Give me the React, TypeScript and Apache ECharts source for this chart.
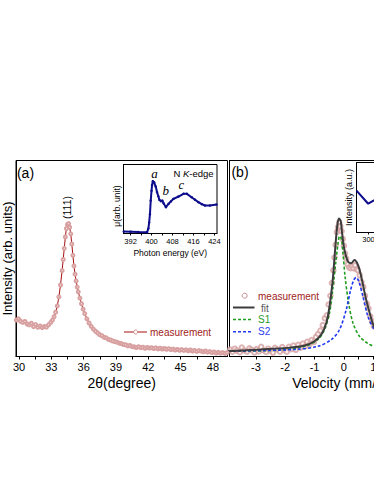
import React, { useEffect, useRef } from "react";
import * as echarts from "echarts";

const FONT = "Liberation Sans, Arial, Helvetica, sans-serif";
const SERIF = "Liberation Serif, Times New Roman, serif";

// Panel (a): XRD pattern
const xrdAngle = [29.75, 29.95, 30.15, 30.35, 30.55, 30.75, 30.95, 31.15, 31.35, 31.55, 31.75, 31.95, 32.15, 32.35, 32.55, 32.75, 32.95, 33.1, 33.25, 33.4, 33.55, 33.7, 33.85, 34.0, 34.1, 34.2, 34.3, 34.4, 34.5, 34.6, 34.7, 34.8, 34.9, 35.0, 35.1, 35.2, 35.3, 35.4, 35.5, 35.65, 35.8, 35.95, 36.1, 36.3, 36.5, 36.7, 36.9, 37.1, 37.3, 37.5, 37.7, 37.9, 38.1, 38.3, 38.5, 38.7, 38.9, 39.1, 39.3, 39.5, 39.7, 39.9, 40.1, 40.3, 40.5, 40.7, 40.9, 41.1, 41.3, 41.5, 41.7, 41.9, 42.1, 42.3, 42.5, 42.7, 42.9, 43.1, 43.3, 43.5, 43.7, 43.9, 44.1, 44.3, 44.5, 44.7, 44.9, 45.1, 45.3, 45.5, 45.7, 45.9, 46.1, 46.3, 46.5, 46.7, 46.9, 47.1, 47.3, 47.5, 47.7, 47.9, 48.1, 48.3, 48.5, 48.7, 48.9, 49.1, 49.3];
const xrdIntensity = [18.6, 19.2, 18.0, 17.4, 17.9, 16.6, 16.1, 17.0, 15.2, 16.3, 14.9, 15.6, 14.7, 15.3, 15.0, 16.2, 17.4, 18.6, 20.3, 22.6, 25.8, 30.4, 36.5, 43.8, 49.5, 55.2, 61.0, 65.3, 67.4, 67.8, 66.0, 62.6, 57.4, 51.6, 46.2, 42.0, 38.5, 35.4, 33.0, 29.8, 26.9, 24.2, 21.9, 19.2, 17.1, 15.4, 14.0, 12.9, 12.0, 11.1, 10.6, 9.8, 9.5, 8.7, 8.4, 7.9, 7.6, 7.3, 6.8, 6.6, 6.1, 6.0, 5.4, 5.6, 5.0, 4.9, 4.6, 5.0, 4.5, 4.7, 4.2, 4.6, 4.3, 4.5, 4.1, 4.4, 3.9, 4.2, 3.8, 4.1, 3.7, 4.0, 3.5, 3.8, 3.3, 3.6, 3.2, 3.5, 3.1, 3.4, 2.9, 3.3, 2.8, 3.1, 2.6, 3.0, 2.7, 2.4, 2.8, 2.2, 2.5, 2.0, 2.3, 1.8, 2.1, 1.7, 2.0, 1.6, 1.9];
const xrdLabels = [30, 33, 36, 39, 42, 45, 48];
const xrdTicks = [30, 31.5, 33, 34.5, 36, 37.5, 39, 40.5, 42, 43.5, 45, 46.5, 48];

// Inset (a): N K-edge absorption
const nexafsEnergy = [389.4, 392, 395, 398.3, 398.8, 399.1, 399.4, 399.7, 400.0, 400.2, 400.5, 401.0, 401.6, 402.1, 402.6, 403.0, 403.6, 404.1, 404.6, 405.5, 406.5, 407.4, 408.4, 410.3, 412.2, 413.5, 415.3, 416.6, 417.9, 419.2, 420.4, 422.3, 424.8];
const nexafsMu = [2.9, 2.6, 2.2, 1.9, 7.2, 16, 28, 47.8, 62, 70, 75.8, 74, 68, 60, 54, 48.8, 46.8, 47.8, 43.9, 38.1, 43, 46.5, 50.3, 53.6, 57.5, 57.5, 52.6, 49, 45.4, 42.5, 40.6, 40.6, 42];
const nexafsLabels = [392, 400, 408, 416, 424];
const nexafsTicks = [392, 396, 400, 404, 408, 412, 416, 420, 424];

// Panel (b): Mössbauer spectrum
const mossVelocity = [-3.88, -3.8, -3.72, -3.65, -3.55, -3.48, -3.4, -3.3, -3.22, -3.15, -3.05, -2.98, -2.9, -2.82, -2.74, -2.65, -2.58, -2.5, -2.42, -2.35, -2.26, -2.18, -2.1, -2.02, -1.95, -1.87, -1.8, -1.72, -1.64, -1.56, -1.48, -1.4, -1.32, -1.25, -1.17, -1.1, -1.02, -0.95, -0.88, -0.8, -0.72, -0.65, -0.58, -0.52, -0.46, -0.41, -0.36, -0.32, -0.28, -0.24, -0.2, -0.16, -0.12, -0.08, -0.04, 0.0, 0.04, 0.08, 0.13, 0.18, 0.23, 0.28, 0.33, 0.38, 0.43, 0.48, 0.54, 0.6, 0.66, 0.72, 0.78, 0.84, 0.9, 0.96, 1.02, 1.1, 1.18, 1.26, 1.34, 1.42];
const mossCounts = [3.5, 2.4, 4.0, 3.0, 2.2, 4.6, 3.1, 2.5, 4.2, 3.4, 2.1, 3.8, 2.6, 4.9, 3.2, 2.3, 4.0, 3.0, 2.0, 4.4, 3.6, 2.5, 4.8, 3.3, 2.4, 5.0, 3.7, 5.6, 3.4, 6.0, 4.5, 6.6, 5.2, 7.5, 6.2, 8.4, 7.4, 10.0, 11.5, 13.2, 16.0, 19.5, 21.0, 26.5, 31.0, 37.5, 44.0, 50.5, 57.0, 63.5, 66.0, 68.5, 66.5, 64.0, 60.0, 56.5, 52.5, 50.0, 47.0, 45.5, 45.0, 46.0, 45.0, 46.5, 44.5, 44.0, 41.5, 38.0, 35.5, 31.0, 27.0, 24.5, 20.5, 18.0, 15.5, 14.8, 12.6, 11.5, 10.2, 9.6];
const fitVelocity = [-3.95, -2.82, -1.91, -1.34, -1.0, -0.77, -0.6, -0.49, -0.38, -0.3, -0.23, -0.17, -0.11, -0.06, 0.02, 0.14, 0.25, 0.36, 0.48, 0.59, 0.76, 0.93, 1.02, 1.2, 1.4];
const fitCounts = [2.7, 3.6, 4.4, 5.6, 7.8, 11.2, 17.1, 25.5, 39.1, 54.3, 66.1, 70.4, 69.2, 62.8, 54.3, 48.4, 47.6, 49.2, 46.7, 40.8, 28.9, 19.5, 15.5, 12.2, 9.8];
const s1Velocity = [-3.95, -2.25, -1.34, -0.89, -0.66, -0.49, -0.38, -0.28, -0.2, -0.15, -0.09, -0.03, 0.04, 0.16, 0.31, 0.53, 0.82, 1.04, 1.4];
const s1Counts = [2.7, 3.2, 5.2, 8.6, 13.7, 22.2, 34, 47.6, 57.7, 61.4, 60.3, 52.6, 40.8, 27.3, 17.1, 10.3, 6.6, 5.2, 4.3];
const s2Velocity = [-3.95, -1.68, -0.89, -0.43, -0.15, 0.08, 0.23, 0.34, 0.42, 0.51, 0.65, 0.82, 1.04, 1.4];
const s2Counts = [2.7, 3.6, 5.2, 8.6, 13.7, 23.9, 34, 39.1, 40.3, 38.2, 30.6, 20.5, 13.7, 8.6];
const mossLabels = [-3, -2, -1, 0, 1, 2, 3];
const mossTicks = [-3.5, -3, -2.5, -2, -1.5, -1, -0.5, 0, 0.5, 1, 1.5, 2, 2.5, 3, 3.5];

// Inset (b): partially visible curve
const insetBX = [296, 299.9, 301.8, 304];
const insetBY = [59.9, 41.1, 45.8, 48];
const insetBLabels = [300];
const insetBTicks = [300, 305, 310, 315];

const zip = (a: number[], b: number[]) => a.map((v, i) => [v, b[i]]);

const axisLine = { show: true, onZero: false, lineStyle: { color: "#000", width: 1 } };

function buildOption() {
  return {
    animation: false,
    backgroundColor: "#fff",
    textStyle: { fontFamily: FONT },
    grid: [
      { left: 15.5, top: 160.5, width: 212, height: 196, show: true, borderColor: "#000", borderWidth: 1, backgroundColor: "transparent" },
      { left: 123.5, top: 164.5, width: 93.5, height: 69, show: true, borderColor: "#000", borderWidth: 1, backgroundColor: "#fff" },
      { left: 229.5, top: 160.5, width: 221, height: 196, show: true, borderColor: "#000", borderWidth: 1, backgroundColor: "transparent" },
      { left: 356.5, top: 162.5, width: 60, height: 70, show: true, borderColor: "#000", borderWidth: 1, backgroundColor: "#fff" },
    ],
    xAxis: [
      {
        type: "value", gridIndex: 0, min: 29.72, max: 49.35,
        axisLine,
        axisTick: { show: true, customValues: xrdTicks, length: 3, inside: false, lineStyle: { color: "#000" } },
        axisLabel: { customValues: xrdLabels, fontSize: 11, color: "#000", margin: 5, fontFamily: FONT },
        splitLine: { show: false },
        name: "2θ(degree)", nameLocation: "middle", nameGap: 19,
        nameTextStyle: { fontSize: 14, color: "#000", fontFamily: FONT },
      },
      {
        type: "value", gridIndex: 1, min: 389.3, max: 425,
        axisLine,
        axisTick: { show: true, customValues: nexafsTicks, length: 2, lineStyle: { color: "#000" } },
        axisLabel: { customValues: nexafsLabels, fontSize: 7.5, color: "#000", margin: 4, fontFamily: FONT },
        splitLine: { show: false },
        name: "Photon energy (eV)", nameLocation: "middle", nameGap: 15,
        nameTextStyle: { fontSize: 8.5, color: "#000", fontFamily: FONT },
      },
      {
        type: "value", gridIndex: 2, min: -3.9, max: 3.635,
        axisLine,
        axisTick: { show: true, customValues: mossTicks, length: 3, lineStyle: { color: "#000" } },
        axisLabel: { customValues: mossLabels, fontSize: 11, color: "#000", margin: 5, fontFamily: FONT },
        splitLine: { show: false },
        name: "Velocity (mm/s)", nameLocation: "middle", nameGap: 19,
        nameTextStyle: { fontSize: 14, color: "#000", fontFamily: FONT },
      },
      {
        type: "value", gridIndex: 3, min: 296, max: 316,
        axisLine,
        axisTick: { show: true, customValues: insetBTicks, length: 2, lineStyle: { color: "#000" } },
        axisLabel: { customValues: insetBLabels, fontSize: 7.5, color: "#000", margin: 3, fontFamily: FONT },
        splitLine: { show: false },
      },
    ],
    yAxis: [
      {
        type: "value", gridIndex: 0, min: 0, max: 100,
        axisLine, axisTick: { show: false }, axisLabel: { show: false }, splitLine: { show: false },
        name: "Intensity (arb. units)", nameLocation: "middle", nameGap: 2,
        nameTextStyle: { fontSize: 13, color: "#000", fontFamily: FONT },
      },
      {
        type: "value", gridIndex: 1, min: 0, max: 100,
        axisLine, axisTick: { show: false }, axisLabel: { show: false }, splitLine: { show: false },
      },
      {
        type: "value", gridIndex: 2, min: 0, max: 100,
        axisLine, axisTick: { show: false }, axisLabel: { show: false }, splitLine: { show: false },
      },
      {
        type: "value", gridIndex: 3, min: 0, max: 100,
        axisLine, axisTick: { show: false }, axisLabel: { show: false }, splitLine: { show: false },
        name: "Intensity (a.u.)", nameLocation: "middle", nameGap: 3,
        nameTextStyle: { fontSize: 9, color: "#000", fontFamily: FONT },
      },
    ],
    series: [
      {
        name: "measurement", type: "line", xAxisIndex: 0, yAxisIndex: 0,
        data: zip(xrdAngle, xrdIntensity),
        symbol: "emptyCircle", symbolSize: 3, showSymbol: true,
        lineStyle: { color: "#a50f0f", width: 1 },
        itemStyle: { color: "#d8a0a0", borderColor: "#d39a9a", borderWidth: 0.8 },
      },
      {
        name: "N K-edge", type: "line", xAxisIndex: 1, yAxisIndex: 1,
        data: zip(nexafsEnergy, nexafsMu),
        symbol: "circle", symbolSize: 2.5, showSymbol: true,
        lineStyle: { color: "#0c0c8c", width: 2 },
        itemStyle: { color: "#0c0c8c" },
      },
      {
        name: "measurement", type: "scatter", xAxisIndex: 2, yAxisIndex: 2,
        data: zip(mossVelocity, mossCounts),
        symbol: "emptyCircle", symbolSize: 4.5,
        itemStyle: { color: "#d4a0a0", borderColor: "#cf9696", borderWidth: 0.9 },
      },
      {
        name: "S1", type: "line", xAxisIndex: 2, yAxisIndex: 2, smooth: 0.3,
        data: zip(s1Velocity, s1Counts), showSymbol: false,
        lineStyle: { color: "#1f9e1f", width: 1.6, type: [3, 2] },
      },
      {
        name: "S2", type: "line", xAxisIndex: 2, yAxisIndex: 2, smooth: 0.3,
        data: zip(s2Velocity, s2Counts), showSymbol: false,
        lineStyle: { color: "#2038f0", width: 1.6, type: [3, 2] },
      },
      {
        name: "fit", type: "line", xAxisIndex: 2, yAxisIndex: 2, smooth: 0.3,
        data: zip(fitVelocity, fitCounts), showSymbol: false,
        lineStyle: { color: "#3c3c3c", width: 2 },
      },
      {
        name: "inset b", type: "line", xAxisIndex: 3, yAxisIndex: 3,
        data: zip(insetBX, insetBY), showSymbol: false,
        lineStyle: { color: "#0c0c8c", width: 2 },
      },
    ],
    graphic: [
      { type: "text", x: 25.5, y: 173, style: { text: "(a)", fontSize: 14, fontFamily: FONT, fill: "#000", align: "center", verticalAlign: "middle" } },
      { type: "text", x: 240, y: 172, style: { text: "(b)", fontSize: 14, fontFamily: FONT, fill: "#000", align: "center", verticalAlign: "middle" } },
      { type: "text", x: 67, y: 207.5, rotation: Math.PI / 2, style: { text: "(111)", fontSize: 10.5, fontFamily: FONT, fill: "#000", align: "center", verticalAlign: "middle" } },
      { type: "text", x: 117, y: 206, rotation: Math.PI / 2, z: 10, style: { text: "μ(arb. unit)", fontSize: 8.5, fontFamily: FONT, fill: "#000", align: "center", verticalAlign: "middle" } },
      { type: "text", x: 154.5, y: 173.5, z: 10, style: { text: "a", fontSize: 13, fontStyle: "italic", fontFamily: SERIF, fill: "#000", align: "center", verticalAlign: "middle" } },
      { type: "text", x: 165.7, y: 190.5, z: 10, style: { text: "b", fontSize: 13, fontStyle: "italic", fontFamily: SERIF, fill: "#000", align: "center", verticalAlign: "middle" } },
      { type: "text", x: 181.3, y: 185, z: 10, style: { text: "c", fontSize: 12.5, fontStyle: "italic", fontFamily: SERIF, fill: "#000", align: "center", verticalAlign: "middle" } },
      {
        type: "text", x: 173.5, y: 173, z: 10,
        style: {
          text: "{n|N }{k|K}{n|-edge}", align: "left", verticalAlign: "middle",
          rich: {
            n: { fontSize: 9.5, fontFamily: FONT, fill: "#000" },
            k: { fontSize: 9.5, fontFamily: FONT, fontStyle: "italic", fill: "#000" },
          },
        },
      },
      // legend (a)
      { type: "line", z: 10, shape: { x1: 124, y1: 332, x2: 147, y2: 332 }, style: { stroke: "#a50f0f", lineWidth: 1 } },
      { type: "circle", z: 11, shape: { cx: 135.7, cy: 332, r: 2 }, style: { stroke: "#cf8c8c", fill: "#fff", lineWidth: 1 } },
      { type: "text", x: 150, y: 332, z: 10, style: { text: "measurement", fontSize: 10, fontFamily: FONT, fill: "#a01c1c", align: "left", verticalAlign: "middle" } },
      // legend (b)
      { type: "circle", z: 11, shape: { cx: 244.7, cy: 295.7, r: 2.5 }, style: { stroke: "#c98a8a", fill: "#fff", lineWidth: 1 } },
      { type: "text", x: 258, y: 296, z: 10, style: { text: "measurement", fontSize: 10, fontFamily: FONT, fill: "#a01c1c", align: "left", verticalAlign: "middle" } },
      { type: "line", z: 10, shape: { x1: 233, y1: 307.5, x2: 254.5, y2: 307.5 }, style: { stroke: "#3c3c3c", lineWidth: 2 } },
      { type: "text", x: 261, y: 308.5, z: 10, style: { text: "fit", fontSize: 10, fontFamily: FONT, fill: "#555", align: "left", verticalAlign: "middle" } },
      { type: "line", z: 10, shape: { x1: 233, y1: 319.5, x2: 253, y2: 319.5 }, style: { stroke: "#1f9e1f", lineWidth: 1.6, lineDash: [3, 2] } },
      { type: "text", x: 258, y: 319.5, z: 10, style: { text: "S1", fontSize: 10, fontFamily: FONT, fill: "#2a9a2a", align: "left", verticalAlign: "middle" } },
      { type: "line", z: 10, shape: { x1: 233, y1: 331.7, x2: 253, y2: 331.7 }, style: { stroke: "#2038f0", lineWidth: 1.6, lineDash: [3, 2] } },
      { type: "text", x: 258, y: 331.7, z: 10, style: { text: "S2", fontSize: 10, fontFamily: FONT, fill: "#3040f0", align: "left", verticalAlign: "middle" } },
    ],
  };
}

export default function App() {
  const ref = useRef<HTMLDivElement>(null);
  useEffect(() => {
    if (!ref.current) return;
    const chart = echarts.init(ref.current, null, { renderer: "svg" });
    chart.setOption(buildOption() as any);
    return () => chart.dispose();
  }, []);
  return (
    <div style={{ position: "fixed", left: 0, top: 0, width: 374, height: 484, overflow: "hidden", background: "#fff" }}>
      <div ref={ref} style={{ width: 460, height: 484 }} />
    </div>
  );
}
